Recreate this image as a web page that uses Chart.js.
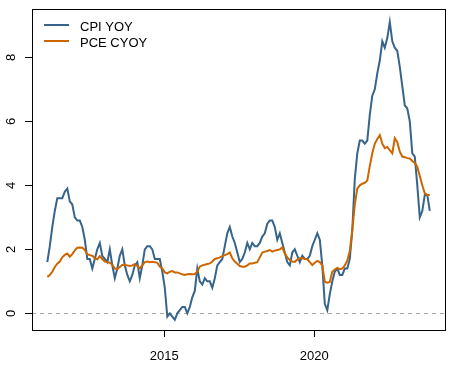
<!DOCTYPE html>
<html>
<head>
<meta charset="utf-8">
<script src="https://cdn.jsdelivr.net/npm/chart.js@4/dist/chart.umd.min.js"></script>
<style>
    html, body { margin: 0; padding: 0; background: #fff; }
    canvas { display: block; }
</style>
</head>
<body>
<canvas id="inflationChart" width="455" height="366"></canvas>
<script>
// Monthly series, Jan 2011 .. Oct 2023
const startYear = 2011;
const monthOffset = 0.1; // values plotted a little after the month they describe

const cpiYoy = [
    1.6, 2.1, 2.7, 3.2, 3.6, 3.6, 3.6, 3.8, 3.9, 3.5, 3.4, 3.0,
    2.9, 2.9, 2.7, 2.3, 1.7, 1.7, 1.4, 1.7, 2.0, 2.2, 1.8, 1.7,
    1.6, 2.0, 1.5, 1.1, 1.4, 1.8, 2.0, 1.5, 1.2, 1.0, 1.2, 1.5,
    1.6, 1.1, 1.5, 2.0, 2.1, 2.1, 2.0, 1.7, 1.7, 1.7, 1.3, 0.8,
    -0.1, 0.0, -0.1, -0.2, 0.0, 0.1, 0.2, 0.2, 0.0, 0.2, 0.5, 0.7,
    1.4, 1.0, 0.9, 1.1, 1.0, 1.0, 0.8, 1.1, 1.5, 1.6, 1.7, 2.1,
    2.5, 2.7, 2.4, 2.2, 1.9, 1.6, 1.7, 1.9, 2.2, 2.0, 2.2, 2.1,
    2.1, 2.2, 2.4, 2.5, 2.8, 2.9, 2.9, 2.7, 2.3, 2.5, 2.2, 1.9,
    1.6, 1.5, 1.9, 2.0, 1.8, 1.6, 1.8, 1.7, 1.7, 1.8, 2.1, 2.3,
    2.5, 2.3, 1.5, 0.3, 0.1, 0.6, 1.0, 1.3, 1.4, 1.2, 1.2, 1.4,
    1.4, 1.7, 2.6, 4.2, 5.0, 5.4, 5.4, 5.3, 5.4, 6.2, 6.8, 7.0,
    7.5, 7.9, 8.5, 8.3, 8.6, 9.1, 8.5, 8.3, 8.2, 7.7, 7.1, 6.5,
    6.4, 6.0, 5.0, 4.9, 4.0, 3.0, 3.2, 3.7, 3.7, 3.2
];

const pceCyoy = [
    1.14, 1.2, 1.3, 1.45, 1.55, 1.62, 1.75, 1.83, 1.87, 1.77, 1.85, 1.97,
    2.05, 2.06, 2.05, 1.98, 1.85, 1.82, 1.8, 1.72, 1.69, 1.79, 1.7, 1.62,
    1.6, 1.58, 1.52, 1.4, 1.38, 1.45, 1.51, 1.52, 1.5, 1.48, 1.5, 1.54,
    1.48, 1.41, 1.5, 1.6, 1.62, 1.6, 1.61, 1.6, 1.58, 1.46, 1.4, 1.28,
    1.25, 1.3, 1.32, 1.28, 1.28, 1.25, 1.22, 1.2, 1.22, 1.23, 1.22, 1.23,
    1.3, 1.46, 1.5, 1.52, 1.54, 1.56, 1.62, 1.7, 1.72, 1.75, 1.79, 1.82,
    1.85, 1.9, 1.72, 1.62, 1.55, 1.48, 1.46, 1.46, 1.5, 1.56, 1.56, 1.58,
    1.6, 1.75, 1.9, 1.93, 1.95, 1.98, 1.93, 1.96, 1.98, 2.0, 2.06, 1.87,
    1.75, 1.67, 1.62, 1.61, 1.68, 1.72, 1.72, 1.7, 1.69, 1.6, 1.51, 1.58,
    1.64, 1.6, 1.5, 0.99, 0.96, 0.98, 1.3, 1.37, 1.42, 1.38, 1.4, 1.5,
    1.65, 1.95, 2.6, 3.4, 3.9, 4.0, 4.05, 4.08, 4.15, 4.6, 5.0, 5.3,
    5.45, 5.57, 5.3, 5.16, 5.2, 5.1, 5.0, 5.47, 5.35, 5.05, 4.9, 4.88,
    4.85, 4.84, 4.76, 4.7, 4.58, 4.29, 4.0, 3.75, 3.7, 3.7
];

const seriesLabels = ['CPI YOY', 'PCE CYOY'];
const xTickYears = [2015, 2020];
const yTickValues = [0, 2, 4, 6, 8];

// axis ranges
const xMin = 2010.59, xMax = 2024.357;
const yMin = -0.52, yMax = 9.51;

function toPoints(values) {
    return values.map((v, i) => ({ x: startYear + i / 12 + monthOffset, y: v }));
}

const colors = ['#36648B', '#CD6600'];
const font = 'Arial, "Liberation Sans", sans-serif';

// box, zero line, rotated y labels and legend in base-graphics style
const basePlot = {
    id: 'basePlot',
    beforeDatasetsDraw(chart) {
        const { ctx, chartArea } = chart;
        const y0 = Math.floor(chart.scales.y.getPixelForValue(0)) + 0.5;
        ctx.save();
        ctx.strokeStyle = '#AAAAAA';
        ctx.lineWidth = 1;
        ctx.setLineDash([4, 4]);
        ctx.beginPath();
        ctx.moveTo(chartArea.left, y0);
        ctx.lineTo(chartArea.right, y0);
        ctx.stroke();
        ctx.restore();
    },
    afterDraw(chart) {
        const { ctx, chartArea } = chart;
        ctx.save();
        ctx.strokeStyle = '#000';
        ctx.lineWidth = 1;
        ctx.strokeRect(chartArea.left + 0.5, chartArea.top + 0.5,
            chartArea.right - chartArea.left, chartArea.bottom - chartArea.top);

        // y tick labels, rotated
        ctx.fillStyle = '#000';
        ctx.font = '13px ' + font;
        ctx.textAlign = 'center';
        ctx.textBaseline = 'alphabetic';
        yTickValues.forEach(v => {
            const y = chart.scales.y.getPixelForValue(v);
            ctx.save();
            ctx.translate(14.5, y);
            ctx.rotate(-Math.PI / 2);
            ctx.fillText(String(v), 0, 0);
            ctx.restore();
        });

        // legend
        ctx.textAlign = 'left';
        chart.data.datasets.forEach((ds, i) => {
            const y = 25 + i * 16;
            ctx.strokeStyle = ds.borderColor;
            ctx.lineWidth = 2;
            ctx.beginPath();
            ctx.moveTo(44, y);
            ctx.lineTo(69, y);
            ctx.stroke();
            ctx.fillText(ds.label, 80, y + 6);
        });
        ctx.restore();
    }
};

const ctx = document.getElementById('inflationChart').getContext('2d');

const chart = new Chart(ctx, {
    type: 'line',
    data: {
        datasets: [
            {
                label: seriesLabels[0],
                data: toPoints(cpiYoy),
                borderColor: colors[0],
                borderWidth: 2,
                pointRadius: 0,
                tension: 0,
                fill: false,
                order: 1
            },
            {
                label: seriesLabels[1],
                data: toPoints(pceCyoy),
                borderColor: colors[1],
                borderWidth: 2,
                pointRadius: 0,
                tension: 0,
                fill: false,
                order: 0
            }
        ]
    },
    options: {
        responsive: false,
        animation: false,
        layout: {
            autoPadding: false,
            padding: { left: 0, top: 9, right: 10, bottom: 0 }
        },
        plugins: {
            legend: { display: false },
            tooltip: { enabled: false }
        },
        scales: {
            x: {
                type: 'linear',
                min: xMin,
                max: xMax,
                afterBuildTicks: s => { s.ticks = xTickYears.map(v => ({ value: v })); },
                afterFit: s => { s.height = 36; },
                grid: { drawOnChartArea: false, color: '#000', tickLength: 7 },
                border: { color: '#000' },
                ticks: {
                    color: '#000',
                    font: { family: font, size: 13 },
                    padding: 12,
                    maxRotation: 0,
                    callback: v => String(v)
                }
            },
            y: {
                type: 'linear',
                min: yMin,
                max: yMax,
                afterBuildTicks: s => { s.ticks = yTickValues.map(v => ({ value: v })); },
                afterFit: s => { s.width = 32; },
                grid: { drawOnChartArea: false, color: '#000', tickLength: 7 },
                border: { color: '#000' },
                ticks: { display: false }
            }
        }
    },
    plugins: [basePlot]
});
</script>
</body>
</html>
